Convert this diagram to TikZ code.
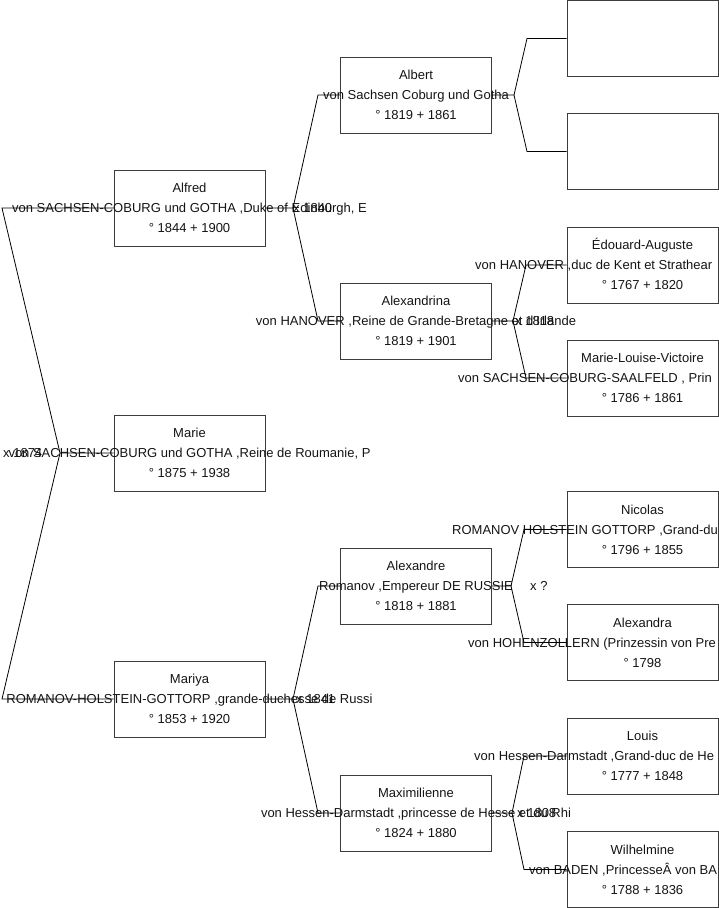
\documentclass[tikz,border=0pt]{standalone}
\usepackage{fontspec}
\setmainfont{Liberation Sans}
\definecolor{boxc}{RGB}{60,60,60}
\definecolor{txtc}{RGB}{20,20,20}
\newcommand{\pbox}[6]{%
  \node[person] (#1) at (#2,#3) {};
  \node[txt] (#1-a) at (#2,#3-15.3) {#4};
  \node[txt] (#1-b) at (#2,#3+4.7) {#5};
  \node[txt] (#1-c) at (#2,#3+24.7) {#6};
}
\newcommand{\pboxw}[7]{%
  \node[person] (#1) at (#2,#3) {};
  \node[txt] (#1-a) at (#2,#3-15.3) {#4};
  \node[txt,anchor=base west] (#1-b) at (#7,#3+4.7) {#5};
  \node[txt] (#1-c) at (#2,#3+24.7) {#6};
}
\begin{document}
\begin{tikzpicture}[x=1pt,y=-1pt,
  person/.style={draw=boxc, line width=0.9pt, minimum width=151pt, minimum height=76pt, inner sep=0pt},
  txt/.style={font=\fontsize{13}{15}\selectfont, inner sep=0pt, anchor=base, text=txtc},
  mlabel/.style={txt, anchor=base west},
  link/.style={draw=black, line width=0.8pt},
]
\useasboundingbox (0,0) rectangle (719,908);

% column 1
\pbox{alfred}{189.5}{208}{Alfred}{von SACHSEN-COBURG und GOTHA ,Duke of Edinburgh, E}{° 1844 + 1900}
\pbox{marie}{189.5}{453}{Marie}{von SACHSEN-COBURG und GOTHA ,Reine de Roumanie, P}{° 1875 + 1938}
\pbox{mariya}{189.5}{699}{Mariya}{ROMANOV-HOLSTEIN-GOTTORP ,grande-duchesse de Russi}{° 1853 + 1920}

% column 2
\pbox{albert}{416}{95}{Albert}{von Sachsen Coburg und Gotha}{° 1819 + 1861}
\pbox{alexandrina}{416}{321}{Alexandrina}{von HANOVER ,Reine de Grande-Bretagne et d'Irlande}{° 1819 + 1901}
\pbox{alexandre}{416}{586}{Alexandre}{Romanov ,Empereur DE RUSSIE}{° 1818 + 1881}
\pbox{maximilienne}{416}{813}{Maximilienne}{von Hessen-Darmstadt ,princesse de Hesse et du Rhi}{° 1824 + 1880}

% column 3
\node[person] (unk1) at (642.5,38.5) {};
\node[person] (unk2) at (642.5,151.5) {};
\pboxw{edouard}{642.5}{265}{Édouard-Auguste}{von HANOVER ,duc de Kent et Strathear}{° 1767 + 1820}{475}
\pboxw{mlv}{642.5}{378}{Marie-Louise-Victoire}{von SACHSEN-COBURG-SAALFELD , Prin}{° 1786 + 1861}{458}
\pboxw{nicolas}{642.5}{529.5}{Nicolas}{ROMANOV HOLSTEIN GOTTORP ,Grand-du}{° 1796 + 1855}{452}
\pboxw{alexandra}{642.5}{642.5}{Alexandra}{von HOHENZOLLERN (Prinzessin von Pre}{° 1798}{468}
\pboxw{louis}{642.5}{756}{Louis}{von Hessen-Darmstadt ,Grand-duc de He}{° 1777 + 1848}{474}
\pboxw{wilhelmine}{642.5}{869.5}{Wilhelmine}{von BADEN ,PrincesseÂ von BA}{° 1788 + 1836}{529}

% marriage labels
\node[mlabel] (m1874) at (3,457.7) {x 1874};
\node[mlabel] (m1840) at (293,212.7) {x 1840};
\node[mlabel] (m1841) at (296,703.7) {x 1841};
\node[mlabel] (m1818) at (515,325.7) {x 1818};
\node[mlabel] (mq) at (530,590.7) {x ?};
\node[mlabel] (m1804) at (517,817.7) {x 1808};

% fork points
\coordinate (fMarie) at (60,453);
\coordinate (cMarieA) at (2,208);
\coordinate (cMarieB) at (2,699);
\coordinate (fAlfred) at (293,208);
\coordinate (cAlfredA) at (318,95);
\coordinate (cAlfredB) at (318,321);
\coordinate (fMariya) at (293,699);
\coordinate (cMariyaA) at (318,586);
\coordinate (cMariyaB) at (318,813);
\coordinate (fAlbert) at (514,95);
\coordinate (cAlbertA) at (527,38.5);
\coordinate (cAlbertB) at (527,151.5);
\coordinate (fAlexandrina) at (513,321);
\coordinate (cAlexandrinaA) at (526,265);
\coordinate (cAlexandrinaB) at (526,378);
\coordinate (fAlexandre) at (511,586);
\coordinate (cAlexandreA) at (524,529.5);
\coordinate (cAlexandreB) at (524,642.5);
\coordinate (fMaximilienne) at (512,813);
\coordinate (cMaximilienneA) at (524,756);
\coordinate (cMaximilienneB) at (524,869.5);

% connectors
\draw[link] (marie.west) -- (fMarie) -- (cMarieA) -- (alfred.west);
\draw[link] (fMarie) -- (cMarieB) -- (mariya.west);
\draw[link] (alfred.east) -- (fAlfred) -- (cAlfredA) -- (albert.west);
\draw[link] (fAlfred) -- (cAlfredB) -- (alexandrina.west);
\draw[link] (mariya.east) -- (fMariya) -- (cMariyaA) -- (alexandre.west);
\draw[link] (fMariya) -- (cMariyaB) -- (maximilienne.west);
\draw[link] (albert.east) -- (fAlbert) -- (cAlbertA) -- (unk1.west);
\draw[link] (fAlbert) -- (cAlbertB) -- (unk2.west);
\draw[link] (alexandrina.east) -- (fAlexandrina) -- (cAlexandrinaA) -- (edouard.west);
\draw[link] (fAlexandrina) -- (cAlexandrinaB) -- (mlv.west);
\draw[link] (alexandre.east) -- (fAlexandre) -- (cAlexandreA) -- (nicolas.west);
\draw[link] (fAlexandre) -- (cAlexandreB) -- (alexandra.west);
\draw[link] (maximilienne.east) -- (fMaximilienne) -- (cMaximilienneA) -- (louis.west);
\draw[link] (fMaximilienne) -- (cMaximilienneB) -- (wilhelmine.west);
\end{tikzpicture}
\end{document}
